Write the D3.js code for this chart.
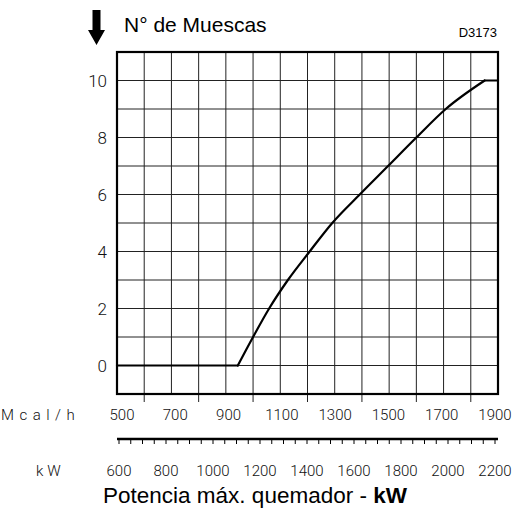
<!DOCTYPE html>
<html>
<head>
<meta charset="utf-8">
<script src="https://cdn.jsdelivr.net/npm/d3@7"></script>
<style>
  body { margin: 0; background: #fff; }
  svg { display: block; }
  .num { font-family: Roboto, "Liberation Sans", sans-serif; font-weight: 300; font-size: 15px; fill: #111; }
</style>
</head>
<body>
<svg id="chart" width="520" height="510"></svg>
<script>
// curve: notch count vs burner output (Mcal/h)
const curveMcal = [500, 944, 1000, 1059, 1128, 1208, 1291, 1392, 1496, 1600, 1708, 1851, 1900];
const curveNotch = [0, 0, 1, 2, 3, 4, 5, 6, 7, 8, 9, 10, 10];

const mcalLabels = [500, 700, 900, 1100, 1300, 1500, 1700, 1900];
const kwLabels = [600, 800, 1000, 1200, 1400, 1600, 1800, 2000, 2200];
const yLabels = [0, 2, 4, 6, 8, 10];

const svg = d3.select("#chart");

const x = d3.scaleLinear().domain([500, 1900]).range([117, 498]);
const y = d3.scaleLinear().domain([-1, 11]).range([394, 52]);
// label positions as laid out in the drawing
const xLab = d3.scaleLinear().domain([500, 1900]).range([122, 495]);
const kw = d3.scaleLinear().domain([600, 2200]).range([119, 495]);

// grid
const grid = svg.append("g").attr("stroke", "#222").attr("stroke-width", 1);
grid.selectAll("line.v")
    .data(d3.range(600, 1900, 100))
    .enter().append("line")
    .attr("x1", d => x(d)).attr("x2", d => x(d))
    .attr("y1", y(11)).attr("y2", y(-1));
grid.selectAll("line.h")
    .data(d3.range(0, 11, 1))
    .enter().append("line")
    .attr("x1", x(500)).attr("x2", x(1900))
    .attr("y1", d => y(d)).attr("y2", d => y(d));

// small ticks under the frame
svg.append("g").attr("stroke", "#222").attr("stroke-width", 1)
    .selectAll("line")
    .data(d3.range(600, 1900, 200))
    .enter().append("line")
    .attr("x1", d => x(d)).attr("x2", d => x(d))
    .attr("y1", y(-1)).attr("y2", y(-1) + 8);

// frame
svg.append("rect")
    .attr("x", x(500)).attr("y", y(11))
    .attr("width", x(1900) - x(500)).attr("height", y(-1) - y(11))
    .attr("fill", "none").attr("stroke", "#000").attr("stroke-width", 2.2);

// curve: flat start, smooth rise, flat end
const pts = curveMcal.map((m, i) => [x(m), y(curveNotch[i])]);
const last = pts.length - 1;
const straight = d3.line();
const smooth = d3.line().curve(d3.curveMonotoneX);
const curveG = svg.append("g")
    .attr("fill", "none").attr("stroke", "#000").attr("stroke-width", 2.2)
    .attr("stroke-linejoin", "round").attr("stroke-linecap", "round");
curveG.append("path").attr("d", straight(pts.slice(0, 2)));
curveG.append("path").attr("d", smooth(pts.slice(1, last)));
curveG.append("path").attr("d", straight(pts.slice(last - 1)));

// y labels
svg.append("g").selectAll("text")
    .data(yLabels)
    .enter().append("text")
    .attr("class", "num")
    .style("font-size", "17px")
    .attr("x", 107).attr("y", d => y(d))
    .attr("dy", "0.36em").attr("text-anchor", "end")
    .text(d => d);

// Mcal/h labels
svg.append("text").attr("class", "num")
    .attr("x", 1).attr("y", 420).attr("letter-spacing", 5.5)
    .text("Mcal/h");
svg.append("g").selectAll("text")
    .data(mcalLabels)
    .enter().append("text")
    .attr("class", "num")
    .attr("x", d => xLab(d)).attr("y", 420).attr("text-anchor", "middle")
    .text(d => d);

// kW axis line with ticks
svg.append("line")
    .attr("x1", x(500)).attr("x2", x(1900))
    .attr("y1", 439).attr("y2", 439)
    .attr("stroke", "#000").attr("stroke-width", 2.4);
svg.append("g").attr("stroke", "#000").attr("stroke-width", 1)
    .selectAll("line")
    .data(d3.range(600, 2201, 50))
    .enter().append("line")
    .attr("x1", d => kw(d)).attr("x2", d => kw(d))
    .attr("y1", 439).attr("y2", 444);

svg.append("text").attr("class", "num")
    .attr("x", 36).attr("y", 476).attr("letter-spacing", 4)
    .text("kW");
svg.append("g").selectAll("text")
    .data(kwLabels)
    .enter().append("text")
    .attr("class", "num")
    .attr("x", d => kw(d)).attr("y", 476).attr("text-anchor", "middle")
    .text(d => d);

// title
const title = svg.append("text")
    .attr("x", 255).attr("y", 503).attr("text-anchor", "middle")
    .style("font-family", "'Liberation Sans', Arial, sans-serif")
    .style("font-size", "22.5px");
title.append("tspan").text("Potencia máx. quemador - ");
title.append("tspan").style("font-weight", "bold").text("kW");

// header
svg.append("path")
    .attr("d", "M92.5,10 H100.5 V30 H105 L96.5,45 L88,30 H92.5 Z")
    .attr("fill", "#000");
svg.append("text")
    .attr("x", 124).attr("y", 32)
    .style("font-family", "'Liberation Sans', Arial, sans-serif")
    .style("font-size", "21px")
    .text("N° de Muescas");
svg.append("text")
    .attr("x", 497).attr("y", 37).attr("text-anchor", "end")
    .style("font-family", "'Liberation Sans', Arial, sans-serif")
    .style("font-size", "13px")
    .text("D3173");
</script>
</body>
</html>
